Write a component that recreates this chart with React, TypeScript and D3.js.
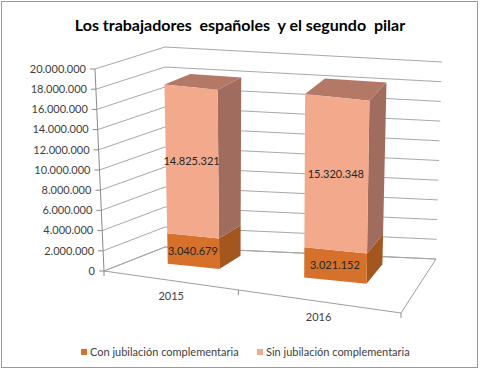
import React from 'react';
import * as d3 from 'd3';

const categories = ['2015', '2016'];
const conJubilacion = [3040679, 3021152];
const sinJubilacion = [14825321, 15320348];
const yMax = 20000000;
const seriesNames = ['Con jubilación complementaria', 'Sin jubilación complementaria'];
const title = 'Los trabajadores  españoles  y el segundo  pilar';

const W = 480;
const H = 370;

// projected corners of the 3D plot box [x, y]
const FBL = [104, 271];
const FTL = [95, 69];
const BBL = [165, 247];
const BTL = [165, 47];
const FBR = [401, 313];
const FTR = [405, 112];
const BBR = [436, 259];
const BTR = [442, 62];
const K = 1.21; // horizontal perspective warp
const W0 = 0.45; // bar depth front
const W1 = 0.85; // bar depth back

const lerp = (a: number[], b: number[], t: number) => [a[0] + (b[0] - a[0]) * t, a[1] + (b[1] - a[1]) * t];
const warp = (u: number) => u / (u + K * (1 - u));

function P(u: number, v: number, w: number) {
  const fu = warp(u);
  const bf = lerp(FBL, FBR, fu);
  const tf = lerp(FTL, FTR, fu);
  const bb = lerp(BBL, BBR, fu);
  const tb = lerp(BTL, BTR, fu);
  const front = lerp(bf, tf, v);
  const back = lerp(bb, tb, v);
  return lerp(front, back, w);
}

const pts = (arr: number[][]) => arr.map((p) => `${p[0].toFixed(2)},${p[1].toFixed(2)}`).join(' ');

const locale = d3.formatLocale({ thousands: '.', decimal: ',', grouping: [3], currency: ['', ''] });
const fmt = locale.format(',d');

const FONT = 'Lato, "Open Sans", sans-serif';

export default function App() {
  const y = d3.scaleLinear().domain([0, yMax]).range([0, 1]);
  const x = d3.scaleBand<string>().domain(categories).range([0, 1]).paddingInner(0.6).paddingOuter(0.3);
  const ticks = y.ticks(10);
  const bw = x.bandwidth();

  const colors = {
    con: { front: '#D5712B', side: '#A3561E', top: '#BA6428' },
    sin: { front: '#F3A98B', side: '#A06C5D', top: '#B37866' },
  };

  const bars = categories.map((c, i) => {
    const a = x(c) as number;
    const b = a + bw;
    const segs = [
      { key: 'con', v0: 0, v1: conJubilacion[i], col: colors.con },
      { key: 'sin', v0: conJubilacion[i], v1: conJubilacion[i] + sinJubilacion[i], col: colors.sin },
    ];
    return { c, a, b, segs };
  });

  const catBounds = [0, 0.5, 1];

  return (
    <svg width={W} height={H} style={{ position: 'fixed', left: 0, top: 0, background: '#fff' }} fontFamily={FONT}>
      <rect x={0} y={0} width={W} height={H} fill="#fff" />
      <rect x={1.5} y={1.5} width={476} height={366} fill="none" stroke="#9a9a9a" strokeWidth={1} />
      <text x={240} y={31} textAnchor="middle" fontSize={16} fontWeight="bold" fill="#000" style={{ whiteSpace: 'pre' }}>
        {title}
      </text>

      {/* floor */}
      <polygon points={pts([P(0, 0, 0), P(1, 0, 0), P(1, 0, 1), P(0, 0, 1)])} fill="#fff" stroke="#9e9e9e" strokeWidth={1} />
      {/* gridlines on walls */}
      {ticks.map((t) => (
        <polyline key={t} points={pts([P(0, y(t), 0), P(0, y(t), 1), P(1, y(t), 1)])} fill="none" stroke="#a8a8a8" strokeWidth={1} />
      ))}
      {/* y axis */}
      <line x1={P(0, 0, 0)[0]} y1={P(0, 0, 0)[1]} x2={P(0, 1, 0)[0]} y2={P(0, 1, 0)[1]} stroke="#8a8a8a" strokeWidth={1} />
      {ticks.map((t) => {
        const p = P(0, y(t), 0);
        return (
          <g key={'yt' + t}>
            <line x1={p[0] - 5} y1={p[1]} x2={p[0]} y2={p[1]} stroke="#8a8a8a" />
            <text x={p[0] - 9} y={p[1]} dy="0.35em" textAnchor="end" fontSize={11} fill="#404040">
              {fmt(t)}
            </text>
          </g>
        );
      })}
      {/* category ticks */}
      {catBounds.map((u) => {
        const p = P(u, 0, 0);
        return <line key={'ct' + u} x1={p[0]} y1={p[1]} x2={p[0]} y2={p[1] + 5} stroke="#8a8a8a" />;
      })}
      {categories.map((c) => {
        const p = P((x(c) as number) + bw / 2, 0, 0);
        return (
          <text key={'cl' + c} x={p[0] + 3} y={p[1] + 20} textAnchor="middle" fontSize={11} fill="#404040">
            {c}
          </text>
        );
      })}

      {/* bars */}
      {bars.map((bar) => (
        <g key={bar.c}>
          {bar.segs.map((s, si) => {
            const v0 = y(s.v0);
            const v1 = y(s.v1);
            const { a, b } = bar;
            return (
              <g key={s.key}>
                <polygon points={pts([P(b, v0, W0), P(b, v0, W1), P(b, v1, W1), P(b, v1, W0)])} fill={s.col.side} />
                {si === bar.segs.length - 1 && (
                  <polygon points={pts([P(a, v1, W0), P(b, v1, W0), P(b, v1, W1), P(a, v1, W1)])} fill={s.col.top} />
                )}
                <polygon points={pts([P(a, v0, W0), P(b, v0, W0), P(b, v1, W0), P(a, v1, W0)])} fill={s.col.front} />
              </g>
            );
          })}
          {bar.segs.map((s) => {
            const p = P((bar.a + bar.b) / 2, y((s.v0 + s.v1) / 2), W0);
            return (
              <text key={'dl' + s.key} x={p[0]} y={p[1]} dy="0.35em" textAnchor="middle" fontSize={11} fill="#262626">
                {fmt(s.v1 - s.v0)}
              </text>
            );
          })}
        </g>
      ))}

      {/* legend */}
      {seriesNames.map((n, i) => {
        const lx = i === 0 ? 81 : 257;
        return (
          <g key={n}>
            <rect x={lx} y={349} width={6} height={6} fill={i === 0 ? colors.con.front : colors.sin.front} />
            <text x={lx + 9} y={352} dy="0.35em" fontSize={11} fill="#404040">
              {n}
            </text>
          </g>
        );
      })}
    </svg>
  );
}
